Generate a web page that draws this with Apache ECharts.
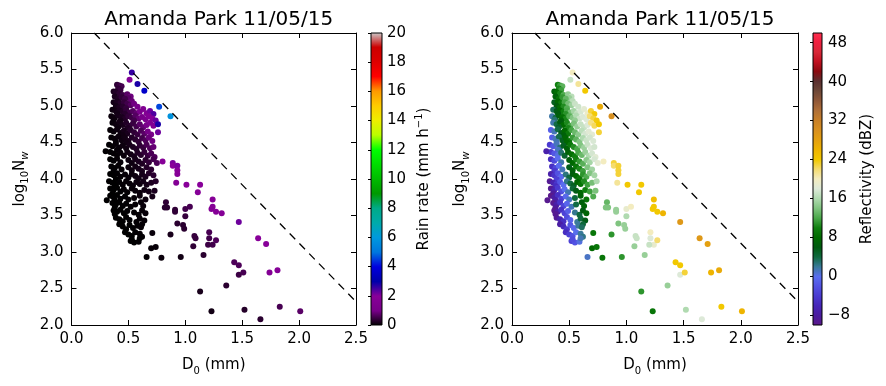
<!DOCTYPE html>
<html><head><meta charset="utf-8">
<script src="https://cdn.jsdelivr.net/npm/echarts@6/dist/echarts.min.js"></script>
<style>html,body{margin:0;padding:0;background:#fff}#c{width:886px;height:386px}</style>
</head><body><div id="c"></div>
<script>
// ---- data: median drop diameter D0 (mm), log10 Nw, rain rate (mm/h), reflectivity (dBZ)
const d0 = [
0.40,0.42,0.44,0.41,0.43,0.37,0.39,0.42,0.45,0.49,
0.52,0.50,0.38,0.41,0.44,0.47,0.53,0.37,0.40,0.43,
0.46,0.49,0.52,0.55,0.58,0.39,0.42,0.45,0.48,0.36,
0.39,0.42,0.45,0.48,0.51,0.54,0.57,0.60,0.63,0.66,
0.69,0.72,0.40,0.47,0.35,0.38,0.41,0.44,0.47,0.50,
0.53,0.56,0.59,0.62,0.65,0.68,0.71,0.37,0.43,0.55,
0.74,0.36,0.39,0.42,0.45,0.48,0.51,0.54,0.57,0.60,
0.63,0.66,0.69,0.72,0.41,0.49,0.34,0.37,0.40,0.43,
0.46,0.49,0.52,0.55,0.58,0.61,0.64,0.67,0.70,0.45,
0.35,0.38,0.41,0.44,0.47,0.50,0.53,0.56,0.59,0.62,
0.65,0.68,0.71,0.39,0.48,0.33,0.36,0.39,0.42,0.45,
0.48,0.51,0.54,0.57,0.60,0.63,0.66,0.69,0.72,0.40,
0.34,0.37,0.40,0.43,0.46,0.49,0.52,0.55,0.58,0.61,
0.64,0.67,0.70,0.73,0.34,0.37,0.40,0.43,0.50,0.53,
0.56,0.59,0.62,0.65,0.68,0.72,0.75,0.35,0.38,0.41,
0.44,0.50,0.53,0.56,0.59,0.62,0.66,0.70,0.37,0.34,
0.37,0.40,0.43,0.47,0.50,0.53,0.56,0.59,0.62,0.65,
0.68,0.72,0.39,0.33,0.36,0.39,0.42,0.45,0.48,0.51,
0.54,0.57,0.60,0.63,0.66,0.70,0.38,0.34,0.37,0.40,
0.43,0.46,0.49,0.53,0.56,0.60,0.64,0.68,0.73,0.36,
0.34,0.37,0.40,0.43,0.47,0.50,0.55,0.60,0.65,0.71,
0.31,0.38,0.36,0.39,0.42,0.45,0.48,0.52,0.56,0.61,
0.63,0.38,0.37,0.40,0.43,0.46,0.49,0.55,0.59,0.62,
0.65,0.38,0.39,0.42,0.45,0.48,0.51,0.57,0.60,0.64,
0.42,0.45,0.48,0.51,0.54,0.58,0.62,0.61,0.47,0.50,
0.53,0.56,0.60,0.62,0.52,0.55,0.59,0.60,0.53,
0.53,0.51,0.58,0.64,0.77,0.87,0.76,0.76,0.30,0.80,
0.89,0.89,0.93,0.93,0.93,0.92,1.01,1.13,1.11,1.24,
1.24,1.23,1.27,1.32,1.47,1.64,1.71,1.74,1.81,1.43,
1.47,1.47,1.51,1.36,1.13,1.23,1.52,1.66,1.83,2.01,
1.21,1.21,1.24,1.20,1.27,1.16,1.08,1.09,1.07,0.93,
0.98,0.99,1.00,1.00,1.04,0.91,0.91,0.83,0.82,0.84,
0.87,0.96,0.79,0.66,0.70,0.74,0.71,0.74
];
const logNw = [
5.29,5.28,5.27,5.24,5.22,5.20,5.19,5.17,5.15,5.16,
5.13,5.11,5.13,5.10,5.12,5.10,5.07,5.05,5.06,5.04,
5.05,5.03,5.01,5.03,4.99,5.00,4.98,4.99,4.97,4.95,
4.93,4.94,4.92,4.94,4.91,4.93,4.90,4.92,4.96,4.90,
4.93,4.89,4.90,4.89,4.86,4.84,4.87,4.85,4.83,4.86,
4.84,4.87,4.83,4.85,4.82,4.86,4.83,4.81,4.80,4.80,
4.80,4.77,4.75,4.78,4.74,4.77,4.73,4.76,4.72,4.75,
4.71,4.74,4.77,4.73,4.71,4.70,4.67,4.65,4.68,4.63,
4.66,4.62,4.67,4.64,4.61,4.66,4.62,4.65,4.61,4.60,
4.57,4.55,4.58,4.53,4.56,4.52,4.57,4.54,4.51,4.56,
4.53,4.57,4.52,4.51,4.50,4.47,4.45,4.48,4.43,4.46,
4.42,4.47,4.44,4.41,4.46,4.43,4.47,4.42,4.44,4.40,
4.37,4.35,4.33,4.36,4.32,4.37,4.34,4.31,4.36,4.33,
4.37,4.32,4.35,4.30,4.27,4.25,4.28,4.23,4.26,4.22,
4.27,4.24,4.21,4.26,4.23,4.27,4.22,4.17,4.15,4.18,
4.13,4.16,4.12,4.17,4.14,4.11,4.16,4.13,4.11,4.07,
4.05,4.08,4.03,4.06,4.02,4.07,4.04,4.01,4.06,4.03,
4.08,4.05,4.00,3.97,3.95,3.93,3.96,3.92,3.97,3.94,
3.91,3.96,3.93,3.97,3.92,3.95,3.90,3.87,3.85,3.88,
3.83,3.86,3.82,3.87,3.84,3.81,3.85,3.83,3.84,3.80,
3.77,3.75,3.78,3.73,3.76,3.72,3.74,3.77,3.72,3.76,
3.71,3.71,3.67,3.65,3.68,3.63,3.66,3.62,3.65,3.68,
3.63,3.61,3.57,3.55,3.58,3.53,3.56,3.54,3.51,3.57,
3.53,3.52,3.47,3.45,3.42,3.48,3.44,3.41,3.46,3.43,
3.38,3.35,3.31,3.37,3.33,3.36,3.38,3.34,3.27,3.24,
3.22,3.27,3.25,3.21,3.15,3.13,3.14,3.19,3.17,
5.46,5.36,5.30,5.21,4.99,4.86,4.75,4.64,4.38,4.24,
4.22,4.18,4.18,4.12,4.07,3.95,3.92,3.92,3.82,3.72,
3.62,3.59,3.55,3.53,3.41,3.19,3.11,2.72,2.75,2.86,
2.82,2.69,2.72,2.54,2.46,2.19,2.21,2.08,2.25,2.19,
3.27,3.19,3.10,3.10,3.16,2.96,3.22,3.19,3.08,3.39,
3.37,3.32,3.59,3.49,3.62,3.58,3.55,3.68,3.61,3.61,
3.24,2.93,2.92,2.93,3.05,3.07,3.26,3.97
];
const rainRate = [
0.39,0.48,0.58,0.39,0.46,0.22,0.28,0.37,0.49,0.74,
0.92,0.73,0.21,0.28,0.41,0.53,0.87,0.16,0.23,0.31,
0.43,0.55,0.70,0.95,1.10,0.18,0.24,0.34,0.44,0.11,
0.15,0.22,0.29,0.41,0.51,0.69,0.83,1.10,1.52,1.66,
2.18,2.41,0.16,0.33,0.08,0.11,0.17,0.22,0.29,0.41,
0.51,0.71,0.83,1.09,1.28,1.74,1.97,0.09,0.18,0.56,
2.23,0.07,0.10,0.15,0.19,0.28,0.34,0.47,0.55,0.75,
0.85,1.15,1.51,1.67,0.12,0.26,0.04,0.06,0.10,0.12,
0.18,0.21,0.32,0.39,0.46,0.65,0.75,0.99,1.11,0.14,
0.04,0.06,0.09,0.11,0.15,0.19,0.28,0.33,0.40,0.56,
0.66,0.89,0.96,0.06,0.15,0.02,0.03,0.05,0.07,0.10,
0.12,0.18,0.22,0.27,0.38,0.45,0.62,0.67,0.86,0.05,
0.02,0.03,0.04,0.06,0.08,0.12,0.15,0.18,0.26,0.31,
0.42,0.46,0.61,0.66,0.01,0.02,0.04,0.05,0.10,0.12,
0.18,0.21,0.25,0.35,0.41,0.58,0.63,0.02,0.02,0.03,
0.04,0.08,0.10,0.14,0.17,0.20,0.30,0.37,0.02,0.01,
0.01,0.02,0.03,0.05,0.06,0.09,0.11,0.13,0.18,0.21,
0.29,0.35,0.01,0.01,0.01,0.01,0.02,0.03,0.04,0.05,
0.07,0.10,0.11,0.16,0.17,0.24,0.01,0.01,0.01,0.01,
0.02,0.03,0.03,0.06,0.07,0.09,0.13,0.16,0.23,0.01,
0.01,0.01,0.01,0.02,0.02,0.03,0.05,0.08,0.10,0.17,
0.01,0.01,0.01,0.01,0.01,0.02,0.02,0.03,0.04,0.06,
0.07,0.01,0.01,0.01,0.01,0.01,0.02,0.03,0.04,0.05,
0.06,0.01,0.01,0.01,0.01,0.01,0.02,0.03,0.04,0.05,
0.01,0.01,0.01,0.01,0.02,0.03,0.04,0.04,0.01,0.01,
0.01,0.02,0.03,0.03,0.01,0.01,0.02,0.02,0.01,
2.6,1.8,2.8,3.6,4.6,5.8,2.8,2.2,0.02,1.9,
2.1,2.0,2.1,2.0,1.9,1.7,2.0,2.0,1.9,1.9,
1.8,1.8,1.8,1.8,2.2,2.0,2.0,1.7,1.8,0.65,
0.65,0.5,0.6,0.35,0.2,0.15,0.3,0.35,0.6,0.75,
0.6,0.55,0.55,0.5,0.65,0.35,0.45,0.45,0.4,0.35,
0.35,0.35,0.55,0.45,0.6,0.4,0.4,0.4,0.35,0.35,
0.2,0.15,0.08,0.03,0.05,0.06,0.07,0.3
];
const reflectivity = [
10.0,11.4,12.7,10.3,11.5,6.8,8.3,10.3,12.2,14.9,
16.4,15.0,6.9,8.9,11.2,13.0,16.4,5.3,7.7,9.7,
11.9,13.6,15.2,17.1,17.3,6.4,8.4,10.6,12.4,3.4,
5.7,8.0,9.9,12.1,13.7,15.5,16.9,17.7,18.5,19.4,
23.0,23.9,6.1,10.9,1.7,4.0,6.6,8.5,10.3,12.5,
14.1,16.1,17.3,17.9,18.1,21.9,22.9,2.9,7.3,14.8,
23.8,1.6,3.9,6.4,8.1,10.4,11.9,13.8,15.1,17.0,
17.0,18.0,21.4,22.3,5.0,10.3,-1.1,1.3,3.9,5.6,
8.0,9.5,11.8,13.2,14.5,16.5,17.6,18.3,18.5,6.7,
-1.2,1.1,3.7,5.3,7.6,9.1,11.4,12.8,14.1,16.0,
17.2,17.5,17.8,1.5,7.7,-4.0,-1.6,1.2,2.9,5.3,
6.9,9.3,10.6,12.0,14.1,15.2,17.1,17.9,17.5,1.1,
-4.1,-1.7,0.4,2.9,4.6,7.0,8.5,9.9,12.0,13.2,
15.1,16.0,17.6,18.4,-5.1,-2.7,-0.1,1.6,6.5,7.9,
10.1,11.4,12.5,14.5,15.6,17.7,18.5,-5.2,-2.9,-0.3,
1.3,5.5,6.9,9.1,10.4,11.5,14.0,15.4,-4.1,-7.1,
-4.7,-2.1,-0.4,2.6,4.1,6.4,7.8,9.1,11.0,12.2,
14.1,15.5,-3.6,-9.0,-6.6,-4.3,-1.8,-0.1,2.4,4.0,
5.3,7.5,8.8,10.6,11.6,13.6,-5.4,-9.1,-6.7,-4.1,
-2.4,0.0,1.5,4.4,5.8,7.6,9.9,11.6,13.8,-8.1,
-9.8,-7.7,-5.1,-3.4,-0.4,1.1,4.2,7.2,9.1,12.2,
-9.5,-7.3,-9.4,-7.1,-4.6,-3.0,-0.7,1.3,3.9,6.7,
7.2,-8.3,-9.5,-7.4,-4.9,-3.3,-1.1,2.2,4.1,6.1,
7.2,-9.2,-8.9,-6.9,-5.1,-2.5,-1.0,2.0,4.1,5.7,
-7.6,-5.8,-4.2,-1.7,-0.5,2.0,4.2,3.3,-5.3,-3.7,
-2.1,0.1,2.0,2.5,-3.4,-1.9,0.4,1.4,-2.6,
20,17,21,24,27,30,24,23,-7,20,
23,22,23,23,23,21,24,24,24,25,
24,24,24,26,29,29,28,26,27,24,
24,18,23,15,11,9,16,18,24,26,
20,18,19,17,22,15,17,17,15,14,
15,15,19,16,20,15,15,13,14,14,
11,11,9,1,8,9,9,16
];
// dashed reference line end points
const refLineD0 = [0.2, 2.5];
const refLineNw = [6.0, 2.32];
// tick labels
const xTicks = [0, 0.5, 1.0, 1.5, 2.0, 2.5];
const yTicks = [2.0, 2.5, 3.0, 3.5, 4.0, 4.5, 5.0, 5.5, 6.0];
const rainTicks = [0, 2, 4, 6, 8, 10, 12, 14, 16, 18, 20];
const dbzTicks = [-8, 0, 8, 16, 24, 32, 40, 48];
const rainRange = [0, 20];
const dbzRange = [-10, 50];
const titleText = 'Amanda Park 11/05/15';

// ---- styles
const font = 'DejaVu Sans';
const black = '#000';
const nipySpectral = ['#000000','#770088','#880099','#0000aa','#0000dd','#0077dd','#0099dd','#00aaaa','#00aa88','#009900','#00bb00','#00dd00','#00ff00','#bbff00','#eeee00','#ffcc00','#ff9900','#ff0000','#dd0000','#cc0000','#cccccc'];
const dbzColors = ['#5c1a8a','#4b1c9e','#4626b8','#4a3ad0','#5252e2','#5a6ef0','#3a7a9a','#106a40','#005a10','#006a00','#108010','#4aa84a','#80c480','#b0dab0','#dde9d8','#f3ecc0','#f5dc70','#f2c800','#eeb400','#e4a010','#d89020','#c88028','#b07038','#905838','#6e4838','#5a3030','#8a0a10','#c01020','#d82838','#f02040','#ff3050'];
const grad = cols => new echarts.graphic.LinearGradient(0, 1, 0, 0, cols.map((c, i) => ({offset: i / (cols.length - 1), color: c})));

const richName = {
  n: {fontFamily: font, fontSize: 15, color: black, lineHeight: 21},
  s: {fontFamily: font, fontSize: 10, color: black, lineHeight: 10, verticalAlign: 'bottom'},
  si: {fontFamily: font, fontSize: 10, color: black, lineHeight: 10, verticalAlign: 'bottom', fontStyle: 'italic'},
  sup: {fontFamily: font, fontSize: 10, color: black, lineHeight: 10, verticalAlign: 'top'}
};
const lbl = {fontFamily: font, fontSize: 15, color: black};
const fmt1 = v => v.toFixed(1);
const minus = v => String(v).replace('-', '\u2212');

function plotXAxes(gi) {
  const base = {gridIndex: gi, type: 'value', min: xTicks[0], max: xTicks[xTicks.length - 1], interval: xTicks[1] - xTicks[0],
    axisLine: {show: true, onZero: false, lineStyle: {color: black, width: 1}},
    axisTick: {inside: true, length: 5, lineStyle: {color: black}}, splitLine: {show: false}};
  return [
    Object.assign({}, base, {position: 'bottom',
      axisLabel: Object.assign({}, lbl, {margin: 7, formatter: fmt1, showMinLabel: true, showMaxLabel: true}),
      name: '{n|D}{s|0}{n| (mm)}', nameLocation: 'middle', nameGap: 30, nameTextStyle: {rich: richName}}),
    Object.assign({}, base, {position: 'top', axisLabel: {show: false}})
  ];
}
function plotYAxes(gi) {
  const base = {gridIndex: gi, type: 'value', min: yTicks[0], max: yTicks[yTicks.length - 1], interval: yTicks[1] - yTicks[0],
    axisLine: {show: true, onZero: false, lineStyle: {color: black, width: 1}},
    axisTick: {inside: true, length: 5, lineStyle: {color: black}}, splitLine: {show: false}};
  return [
    Object.assign({}, base, {position: 'left',
      axisLabel: Object.assign({}, lbl, {margin: 8, formatter: fmt1, showMinLabel: true, showMaxLabel: true}),
      name: '{n|log}{s|10}{n|N}{si|w}', nameLocation: 'middle', nameGap: 41, nameRotate: 90, nameTextStyle: {rich: richName}}),
    Object.assign({}, base, {position: 'right', axisLabel: {show: false}})
  ];
}

const leftData = d0.map((x, i) => [x, logNw[i], rainRate[i]]);
const rightData = d0.map((x, i) => [x, logNw[i], reflectivity[i]]);
const refData = refLineD0.map((x, i) => [x, refLineNw[i]]);

const chart = echarts.init(document.getElementById('c'), null, {renderer: 'canvas'});
chart.setOption({
  animation: false,
  backgroundColor: '#fff',
  title: [
    {text: titleText, left: 213.75, top: 5, textAlign: 'center', textStyle: {fontFamily: font, fontSize: 20, fontWeight: 'normal', color: black}},
    {text: titleText, left: 655, top: 5, textAlign: 'center', textStyle: {fontFamily: font, fontSize: 20, fontWeight: 'normal', color: black}}
  ],
  grid: [
    {left: 71.5, top: 33, width: 284.5, height: 292, outerBoundsMode: 'none'},
    {left: 371, top: 33, width: 11, height: 292, show: true, borderColor: black, borderWidth: 1, backgroundColor: grad(nipySpectral), outerBoundsMode: 'none'},
    {left: 512, top: 33, width: 286, height: 292, outerBoundsMode: 'none'},
    {left: 813, top: 33, width: 9, height: 292, show: true, borderColor: black, borderWidth: 1, backgroundColor: grad(dbzColors), outerBoundsMode: 'none'}
  ],
  xAxis: [
    ...plotXAxes(0),
    {gridIndex: 1, type: 'value', min: 0, max: 1, show: false},
    ...plotXAxes(2),
    {gridIndex: 3, type: 'value', min: 0, max: 1, show: false}
  ],
  yAxis: [
    ...plotYAxes(0),
    {gridIndex: 1, type: 'value', position: 'right', min: rainRange[0], max: rainRange[1], interval: rainTicks[1] - rainTicks[0],
      axisLine: {show: false}, splitLine: {show: false},
      axisTick: {show: true, inside: true, length: 3, lineStyle: {color: black}},
      axisLabel: Object.assign({}, lbl, {margin: 5, showMinLabel: true, showMaxLabel: true}),
      name: '{n|Rain rate (mm h}{sup|\u22121}{n|)}', nameLocation: 'middle', nameGap: 32, nameRotate: 90, nameTextStyle: {rich: richName}},
    ...plotYAxes(2),
    {gridIndex: 3, type: 'value', position: 'right', min: dbzRange[0], max: dbzRange[1],
      axisLine: {show: false}, splitLine: {show: false},
      axisTick: {show: true, inside: true, length: 3, lineStyle: {color: black}, customValues: dbzTicks},
      axisLabel: Object.assign({}, lbl, {margin: 6, customValues: dbzTicks, formatter: minus}),
      name: 'Reflectivity (dBZ)', nameLocation: 'middle', nameGap: 38, nameRotate: 90, nameTextStyle: lbl}
  ],
  visualMap: [
    {type: 'continuous', show: false, seriesIndex: 0, dimension: 2, min: rainRange[0], max: rainRange[1], inRange: {color: nipySpectral}},
    {type: 'continuous', show: false, seriesIndex: 2, dimension: 2, min: dbzRange[0], max: dbzRange[1], inRange: {color: dbzColors}}
  ],
  series: [
    {type: 'scatter', xAxisIndex: 0, yAxisIndex: 0, data: leftData, symbolSize: 6, itemStyle: {opacity: 1}, silent: true},
    {type: 'line', xAxisIndex: 0, yAxisIndex: 0, data: refData, symbol: 'none', lineStyle: {color: black, width: 1.3, type: [8, 6]}, silent: true},
    {type: 'scatter', xAxisIndex: 3, yAxisIndex: 4, data: rightData, symbolSize: 6, itemStyle: {opacity: 1}, silent: true},
    {type: 'line', xAxisIndex: 3, yAxisIndex: 4, data: refData, symbol: 'none', lineStyle: {color: black, width: 1.3, type: [8, 6]}, silent: true}
  ]
});
</script>
</body></html>
